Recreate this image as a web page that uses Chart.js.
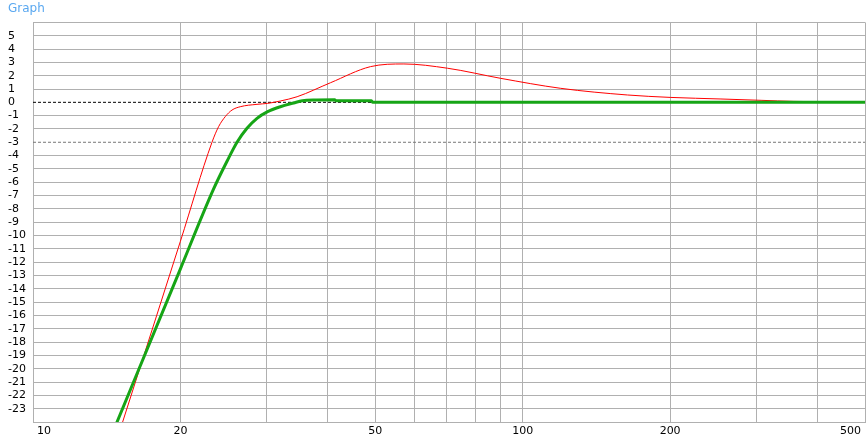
<!DOCTYPE html>
<html lang="en">
<head>
    <meta charset="UTF-8">
    <title>Graph</title>
    <script src="https://cdn.jsdelivr.net/npm/chart.js@4.4.1/dist/chart.umd.min.js"></script>
    <style>
        html, body { margin: 0; padding: 0; background: #fff; }
        #wrap { width: 868px; height: 438px; }
    </style>
</head>
<body>
    <div id="wrap"><canvas id="graph"></canvas></div>

    <script>
        // frequency (Hz) / level (dB)
        const redFreq  = [15.22, 20.0, 23.2, 23.93, 24.7, 25.49, 26.5, 28.67, 30.14, 32.0, 34.62, 40.5, 48.9, 57.2, 70.2, 90.2, 119.6, 163.7, 200, 254, 306.7, 358, 500];
        const redLevel = [-24.07, -10.43, -3.0, -1.83, -1.07, -0.58, -0.33, -0.15, -0.08, 0.1, 0.42, 1.47, 2.68, 2.88, 2.56, 1.8, 1.05, 0.55, 0.37, 0.25, 0.15, 0.07, 0.02];

        const greenFreq  = [14.83, 20.0, 23.38, 25.0, 26.1, 27.35, 28.67, 30.14, 32.0, 34.06, 35.5, 38.0, 41.3, 41.6, 49.1, 49.4, 500];
        const greenLevel = [-24.04, -12.5, -6.5, -4.3, -3.0, -1.95, -1.2, -0.7, -0.33, -0.05, 0.12, 0.18, 0.2, 0.12, 0.12, 0.0, 0.0];

        const xGrid   = [10, 20, 30, 40, 50, 60, 70, 80, 90, 100, 200, 300, 400, 500];
        const xLabels = [10, 20, 50, 100, 200, 500];
        const refLevels = [0, -3];

        const toPoints = (xs, ys) => xs.map((x, i) => ({ x: x, y: ys[i] }));

        // x labels drawn by hand so the end ones stay inside the plot like the original
        const xLabelPlugin = {
            id: 'xLabels',
            afterDraw(chart) {
                const ctx = chart.ctx;
                const sx = chart.scales.x;
                ctx.save();
                ctx.font = '11px "DejaVu Sans"';
                ctx.fillStyle = '#000';
                ctx.textBaseline = 'middle';
                ctx.textAlign = 'left';
                xLabels.forEach(v => {
                    const txt = String(v);
                    const w = ctx.measureText(txt).width;
                    let px = sx.getPixelForValue(v) - w / 2;
                    if (px < sx.left + 4) px = sx.left + 4;
                    if (px + w > sx.right - 4) px = sx.right - 4 - w;
                    ctx.fillText(txt, px, sx.top + 9);
                });
                ctx.restore();
            }
        };

        new Chart(document.getElementById('graph'), {
            type: 'line',
            data: {
                datasets: [
                    {
                        data: toPoints(greenFreq, greenLevel),
                        borderColor: '#16a516',
                        borderWidth: 3,
                        pointRadius: 0,
                        cubicInterpolationMode: 'monotone'
                    },
                    {
                        data: toPoints(redFreq, redLevel),
                        borderColor: '#ff0000',
                        borderWidth: 1,
                        pointRadius: 0,
                        cubicInterpolationMode: 'monotone'
                    },
                    {
                        data: [{ x: 10, y: refLevels[0] }, { x: 500, y: refLevels[0] }],
                        borderColor: '#000',
                        borderWidth: 1,
                        borderDash: [3, 2],
                        pointRadius: 0
                    },
                    {
                        data: [{ x: 10, y: refLevels[1] }, { x: 500, y: refLevels[1] }],
                        borderColor: '#777',
                        borderWidth: 1,
                        borderDash: [3, 2],
                        pointRadius: 0
                    }
                ]
            },
            options: {
                responsive: true,
                maintainAspectRatio: false,
                animation: false,
                layout: { padding: { left: 8, right: 3, top: 0, bottom: 0 } },
                plugins: {
                    legend: { display: false },
                    tooltip: { enabled: false },
                    title: {
                        display: true,
                        text: 'Graph',
                        align: 'start',
                        color: '#5aa8f0',
                        font: { family: 'DejaVu Sans', size: 12, weight: 'normal' },
                        padding: { top: 2, bottom: 6 }
                    }
                },
                scales: {
                    x: {
                        type: 'logarithmic',
                        min: 10,
                        max: 500,
                        afterBuildTicks: s => { s.ticks = xGrid.map(v => ({ value: v })); },
                        afterFit: s => { s.height = 16; },
                        ticks: { display: false },
                        grid: { color: '#b0b0b0', lineWidth: 1, drawTicks: false },
                        border: { color: '#b0b0b0' }
                    },
                    y: {
                        min: -24,
                        max: 6,
                        afterFit: s => { s.width = 25; },
                        ticks: {
                            stepSize: 1,
                            autoSkip: false,
                            crossAlign: 'far',
                            color: '#000',
                            font: { family: 'DejaVu Sans', size: 11 },
                            callback: v => (v === 6 || v === -24) ? '' : String(v)
                        },
                        grid: {
                            color: c => refLevels.includes(c.tick.value) ? 'rgba(0,0,0,0)' : '#b0b0b0',
                            drawTicks: false
                        },
                        border: { color: '#b0b0b0' }
                    }
                }
            },
            plugins: [xLabelPlugin]
        });
    </script>
</body>
</html>
